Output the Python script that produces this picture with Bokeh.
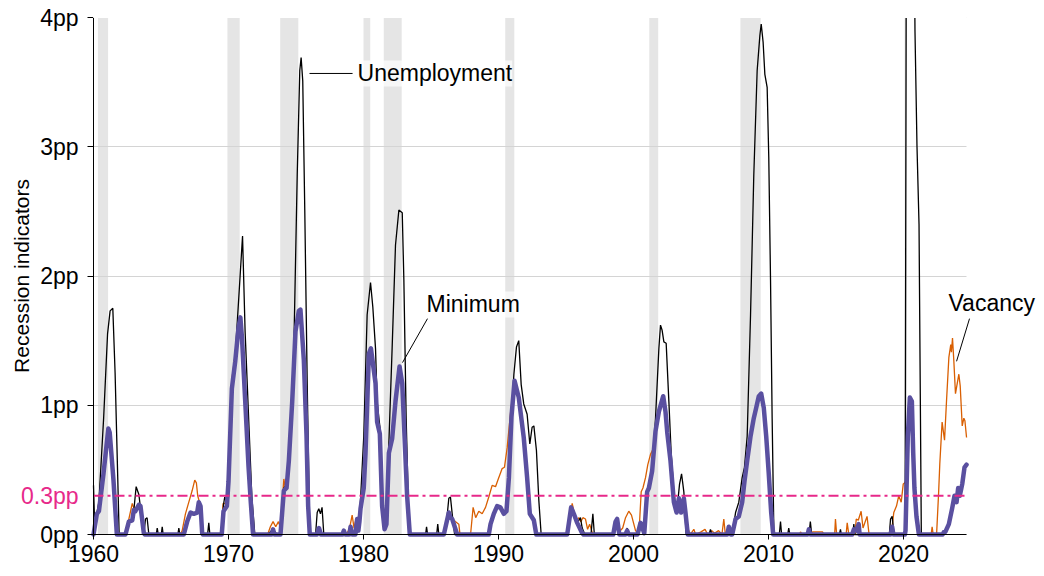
from bokeh.plotting import figure
from bokeh.models import Range1d, FixedTicker, Label, Arrow, PrintfTickFormatter
from bokeh.embed import file_html
from bokeh.resources import INLINE

# NBER recessions (start, end) in decimal years
rec_start = [1960.33, 1969.92, 1973.83, 1980.0, 1981.5, 1990.5, 2001.17, 2007.92, 2020.08]
rec_end = [1961.08, 1970.83, 1975.17, 1980.5, 1982.83, 1991.17, 2001.83, 2009.42, 2020.25]

x_ticks = [1960, 1970, 1980, 1990, 2000, 2010, 2020]
y_ticks = [0, 1, 2, 3, 4]
threshold = 0.3
data_start, data_end = 1960.0, 2024.67
y_min, y_max = 0, 4

unemployment = [
    (1960.0, 0.38), (1960.08, 0.1), (1960.25, 0.17), (1960.4, 0.25), (1960.75, 0.9), (1961.04, 1.55),
    (1961.23, 1.73), (1961.43, 1.75), (1961.6, 1.25), (1961.8, 0.42), (1961.9, 0.0),
    (1962.37, 0.0), (1962.62, 0.1), (1962.87, 0.12), (1962.99, 0.19), (1963.16, 0.37), (1963.36, 0.31),
    (1963.6, 0.1), (1963.73, 0.0), (1963.85, 0.12), (1963.97, 0.13), (1964.1, 0.0),
    (1964.65, 0.0), (1964.72, 0.05), (1964.8, 0.0), (1965.02, 0.0), (1965.09, 0.06), (1965.16, 0.0),
    (1966.25, 0.0), (1966.32, 0.05), (1966.4, 0.0), (1966.69, 0.0), (1966.94, 0.1), (1967.19, 0.17),
    (1967.43, 0.16), (1967.68, 0.17), (1967.8, 0.25), (1967.93, 0.22), (1968.05, 0.01), (1968.45, 0.0),
    (1968.54, 0.09), (1968.62, 0.0),
    (1969.5, 0.0), (1969.63, 0.23), (1969.72, 0.29), (1969.88, 0.26), (1970.12, 0.65), (1970.25, 1.15),
    (1970.5, 1.39), (1970.86, 2.0), (1971.04, 2.31), (1971.23, 1.57), (1971.48, 0.93), (1971.73, 0.29),
    (1971.95, 0.0),
    (1972.9, 0.0), (1973.3, 0.04), (1973.6, 0.0), (1973.85, 0.0), (1974.1, 0.36), (1974.3, 0.38),
    (1974.47, 0.6), (1974.64, 0.75), (1974.84, 1.44), (1975.09, 2.78), (1975.28, 3.59), (1975.38, 3.69),
    (1975.5, 3.51), (1975.65, 2.51), (1975.83, 1.17), (1976.02, 0.0),
    (1976.45, 0.0), (1976.57, 0.17), (1976.69, 0.2), (1976.81, 0.16), (1976.93, 0.21), (1977.06, 0.0),
    (1978.45, 0.0), (1978.54, 0.03), (1978.65, 0.0), (1978.95, 0.0), (1979.04, 0.06), (1979.15, 0.0),
    (1979.4, 0.0), (1979.53, 0.12), (1979.62, 0.03), (1979.78, 0.27),
    (1980.02, 0.76), (1980.27, 1.7), (1980.52, 1.95), (1980.69, 1.76), (1980.89, 1.44), (1981.01, 1.03),
    (1981.14, 0.9), (1981.25, 0.8), (1981.38, 0.25), (1981.46, 0.09), (1981.6, 0.1), (1981.7, 0.14),
    (1981.88, 0.71), (1982.12, 1.44), (1982.37, 2.24), (1982.62, 2.51), (1982.87, 2.49), (1982.99, 1.97),
    (1983.16, 0.9), (1983.36, 0.09), (1983.45, 0.0),
    (1984.6, 0.0), (1984.67, 0.06), (1984.75, 0.0), (1985.42, 0.0), (1985.5, 0.08), (1985.58, 0.0),
    (1985.95, 0.0), (1986.2, 0.15), (1986.32, 0.28), (1986.44, 0.29), (1986.57, 0.16), (1986.75, 0.0),
    (1989.28, 0.0), (1989.41, 0.08), (1989.65, 0.16), (1989.9, 0.22), (1990.14, 0.21), (1990.39, 0.16),
    (1990.59, 0.18), (1990.77, 0.45), (1990.96, 0.93), (1991.14, 1.24), (1991.33, 1.45), (1991.5, 1.5),
    (1991.68, 1.16), (1991.87, 1.01), (1992.12, 0.93), (1992.32, 0.7), (1992.49, 0.83), (1992.62, 0.84),
    (1992.81, 0.65), (1992.99, 0.26), (1993.16, 0.0),
    (1995.09, 0.0), (1995.38, 0.21), (1995.58, 0.16), (1995.83, 0.09), (1996.07, 0.13), (1996.2, 0.05),
    (1996.4, 0.0), (1996.85, 0.0), (1996.99, 0.16), (1997.1, 0.0),
    (1998.5, 0.0), (1998.67, 0.1), (1998.79, 0.13), (1998.95, 0.0), (1999.4, 0.0), (1999.53, 0.05),
    (1999.65, 0.0), (2000.4, 0.0), (2000.52, 0.09), (2000.8, 0.01), (2001.01, 0.33), (2001.14, 0.36),
    (2001.38, 0.49), (2001.63, 0.9), (2001.88, 1.44), (2002.0, 1.62), (2002.12, 1.58), (2002.25, 1.49),
    (2002.42, 1.48), (2002.62, 1.03), (2002.79, 0.63), (2003.04, 0.25), (2003.23, 0.2), (2003.41, 0.39),
    (2003.56, 0.47), (2003.73, 0.33), (2003.9, 0.0),
    (2005.6, 0.0), (2005.7, 0.04), (2005.8, 0.0), (2006.95, 0.0), (2007.06, 0.06), (2007.2, 0.0),
    (2007.31, 0.0), (2007.56, 0.17), (2007.8, 0.25), (2008.05, 0.44), (2008.22, 0.52), (2008.42, 0.76),
    (2008.67, 1.7), (2008.91, 2.78), (2009.16, 3.59), (2009.36, 3.86), (2009.46, 3.95), (2009.6, 3.81),
    (2009.73, 3.56), (2009.9, 3.46), (2010.02, 2.92), (2010.15, 1.97), (2010.27, 0.9), (2010.4, 0.0),
    (2010.8, 0.0), (2010.89, 0.1), (2010.97, 0.0), (2011.42, 0.0), (2011.5, 0.05), (2011.58, 0.0),
    (2013.0, 0.0), (2013.1, 0.1), (2013.2, 0.0), (2015.25, 0.0), (2015.33, 0.04), (2015.4, 0.0),
    (2016.25, 0.0), (2016.32, 0.08), (2016.4, 0.0), (2018.95, 0.0), (2019.04, 0.12), (2019.16, 0.14),
    (2019.3, 0.0),
    (2020.12, 0.0), (2020.3, 9.5), (2020.6, 7.5), (2020.85, 3.9), (2021.0, 3.0), (2021.15, 2.4),
    (2021.32, 0.0),
    (2022.9, 0.0), (2023.0, 0.02), (2023.1, 0.02), (2023.36, 0.08), (2023.6, 0.2), (2023.78, 0.3),
    (2023.93, 0.25), (2024.05, 0.36), (2024.17, 0.3), (2024.35, 0.39), (2024.52, 0.52), (2024.67, 0.54),
]

vacancy = [
    (1960.0, 0.0), (1960.25, 0.17), (1960.4, 0.19), (1960.74, 0.47), (1961.1, 0.82), (1961.2, 0.8),
    (1961.48, 0.43), (1961.73, 0.0),
    (1962.37, 0.0), (1962.62, 0.12), (1962.87, 0.24), (1963.0, 0.2), (1963.1, 0.18), (1963.36, 0.23),
    (1963.48, 0.22), (1963.6, 0.14), (1963.75, 0.0),
    (1966.45, 0.0), (1966.57, 0.03), (1966.81, 0.16), (1967.06, 0.25), (1967.31, 0.34), (1967.5, 0.42),
    (1967.62, 0.4), (1967.72, 0.3), (1967.85, 0.25), (1967.93, 0.22), (1968.05, 0.01), (1968.1, 0.0),
    (1969.45, 0.0), (1969.6, 0.24), (1969.88, 0.24), (1970.0, 0.45), (1970.25, 1.2), (1970.5, 1.4),
    (1970.74, 1.6), (1970.88, 1.68), (1971.0, 1.52), (1971.23, 1.05), (1971.48, 0.53), (1971.65, 0.25),
    (1971.82, 0.0),
    (1972.9, 0.0), (1973.1, 0.06), (1973.3, 0.1), (1973.5, 0.06), (1973.7, 0.1), (1973.85, 0.05),
    (1974.1, 0.43), (1974.2, 0.36), (1974.3, 0.37), (1974.47, 0.57), (1974.72, 1.03), (1974.96, 1.57),
    (1975.21, 1.73), (1975.33, 1.74), (1975.58, 1.35), (1975.78, 0.76), (1975.9, 0.22), (1976.02, 0.0),
    (1976.5, 0.0), (1976.7, 0.05), (1976.85, 0.0), (1978.45, 0.0), (1978.54, 0.03), (1978.7, 0.0),
    (1978.95, 0.04), (1979.16, 0.15), (1979.3, 0.05), (1979.45, 0.12), (1979.53, 0.13), (1979.62, 0.05),
    (1979.7, 0.14), (1979.78, 0.22),
    (1980.02, 0.4), (1980.15, 0.65), (1980.4, 1.42), (1980.55, 1.44), (1980.89, 1.17), (1981.01, 0.87),
    (1981.21, 0.8), (1981.38, 0.3), (1981.5, 0.12), (1981.56, 0.17), (1981.65, 0.12), (1981.88, 0.63),
    (1982.12, 0.74), (1982.37, 1.03), (1982.67, 1.3), (1982.87, 1.17), (1983.04, 0.76), (1983.23, 0.3),
    (1983.43, 0.0),
    (1985.9, 0.0), (1986.32, 0.17), (1986.45, 0.14), (1986.6, 0.12), (1986.8, 0.1), (1987.06, 0.08),
    (1987.15, 0.0),
    (1987.93, 0.0), (1988.12, 0.21), (1988.31, 0.13), (1988.54, 0.18), (1988.79, 0.16), (1989.04, 0.21),
    (1989.28, 0.29), (1989.53, 0.38), (1989.78, 0.37), (1989.95, 0.42), (1990.27, 0.51), (1990.44, 0.52),
    (1990.64, 0.67), (1990.9, 0.95), (1991.19, 1.19), (1991.5, 1.06), (1991.87, 0.75), (1992.12, 0.44),
    (1992.32, 0.16), (1992.62, 0.11), (1992.8, 0.0),
    (1995.0, 0.0), (1995.2, 0.1), (1995.46, 0.24), (1995.6, 0.17), (1995.8, 0.11), (1995.95, 0.13),
    (1996.1, 0.1), (1996.25, 0.13), (1996.44, 0.12), (1996.6, 0.04), (1996.75, 0.08), (1996.9, 0.03),
    (1997.0, 0.0),
    (1998.5, 0.0), (1998.67, 0.1), (1998.79, 0.12), (1998.95, 0.02), (1999.2, 0.05), (1999.41, 0.13),
    (1999.65, 0.18), (1999.85, 0.15), (2000.15, 0.03), (2000.4, 0.0), (2000.57, 0.33), (2000.7, 0.36),
    (2000.89, 0.44), (2001.06, 0.54), (2001.26, 0.62), (2001.5, 0.67), (2001.75, 0.85), (2001.88, 0.95),
    (2002.2, 1.07), (2002.37, 0.95), (2002.5, 0.79), (2002.74, 0.57), (2002.99, 0.3), (2003.19, 0.17),
    (2003.36, 0.28), (2003.53, 0.2), (2003.73, 0.3), (2003.85, 0.22), (2004.02, 0.05), (2004.2, 0.0),
    (2004.47, 0.04), (2004.6, 0.0), (2005.0, 0.02), (2005.3, 0.04), (2005.5, 0.0), (2005.8, 0.03),
    (2006.0, 0.01), (2006.3, 0.03), (2006.55, 0.0), (2006.69, 0.12), (2006.8, 0.0), (2007.06, 0.06),
    (2007.3, 0.0),
    (2007.56, 0.12), (2007.8, 0.14), (2008.05, 0.25), (2008.22, 0.41), (2008.42, 0.57), (2008.67, 0.76),
    (2008.91, 0.9), (2009.09, 0.98), (2009.28, 1.07), (2009.46, 1.09), (2009.65, 0.98), (2009.83, 0.76),
    (2010.02, 0.47), (2010.2, 0.17), (2010.35, 0.0),
    (2012.3, 0.0), (2012.37, 0.02), (2012.5, 0.0), (2013.3, 0.02), (2014.0, 0.02), (2014.1, 0.0),
    (2014.9, 0.0), (2014.96, 0.12), (2015.05, 0.0), (2015.75, 0.0), (2015.83, 0.09), (2015.95, 0.0),
    (2016.4, 0.0), (2016.5, 0.12), (2016.65, 0.11), (2016.86, 0.18), (2017.0, 0.05), (2017.3, 0.14),
    (2017.45, 0.0),
    (2019.1, 0.0), (2019.16, 0.06), (2019.28, 0.17), (2019.48, 0.22), (2019.65, 0.3), (2019.83, 0.25),
    (2019.98, 0.39), (2020.1, 0.4), (2020.2, 0.42), (2020.32, 0.76), (2020.47, 1.06), (2020.62, 1.03),
    (2020.72, 0.63), (2020.81, 0.36), (2020.96, 0.14), (2021.14, 0.0),
    (2022.05, 0.0), (2022.12, 0.06), (2022.2, 0.0), (2022.45, 0.0), (2022.6, 0.32), (2022.69, 0.55),
    (2022.86, 0.87), (2023.04, 0.73), (2023.19, 1.04), (2023.36, 1.37), (2023.5, 1.47), (2023.55, 1.41),
    (2023.63, 1.52), (2023.73, 1.34), (2023.85, 1.09), (2024.1, 1.24), (2024.2, 1.15), (2024.35, 0.84),
    (2024.47, 0.9), (2024.55, 0.88), (2024.67, 0.75),
]

minimum = [
    (1960.0, 0.0), (1960.25, 0.16), (1960.4, 0.18), (1960.74, 0.47), (1961.1, 0.82), (1961.2, 0.79),
    (1961.48, 0.42), (1961.73, 0.0),
    (1962.37, 0.0), (1962.62, 0.1), (1962.87, 0.11), (1962.99, 0.19), (1963.1, 0.18), (1963.36, 0.23),
    (1963.48, 0.22), (1963.73, 0.01), (1963.8, 0.0),
    (1966.69, 0.0), (1966.94, 0.1), (1967.19, 0.17), (1967.43, 0.16), (1967.68, 0.17), (1967.8, 0.25),
    (1967.93, 0.22), (1968.05, 0.01), (1968.1, 0.0),
    (1969.5, 0.0), (1969.63, 0.18), (1969.88, 0.22), (1970.0, 0.41), (1970.25, 1.13), (1970.5, 1.34),
    (1970.74, 1.6), (1970.88, 1.68), (1971.0, 1.52), (1971.23, 1.05), (1971.48, 0.53), (1971.65, 0.25),
    (1971.82, 0.0),
    (1973.2, 0.0), (1973.3, 0.04), (1973.4, 0.0), (1973.85, 0.0), (1974.1, 0.34), (1974.3, 0.36),
    (1974.47, 0.57), (1974.72, 1.03), (1974.96, 1.57), (1975.21, 1.73), (1975.33, 1.74), (1975.58, 1.35),
    (1975.78, 0.76), (1975.9, 0.22), (1976.02, 0.0),
    (1976.55, 0.0), (1976.7, 0.05), (1976.85, 0.0), (1978.45, 0.0), (1978.54, 0.03), (1978.65, 0.0),
    (1978.95, 0.0), (1979.04, 0.06), (1979.15, 0.0), (1979.4, 0.0), (1979.53, 0.12), (1979.62, 0.03),
    (1979.7, 0.1), (1979.78, 0.2),
    (1980.02, 0.36), (1980.15, 0.63), (1980.4, 1.4), (1980.55, 1.44), (1980.89, 1.17), (1981.01, 0.87),
    (1981.21, 0.78), (1981.38, 0.22), (1981.56, 0.04), (1981.7, 0.08), (1981.88, 0.63), (1982.12, 0.74),
    (1982.37, 1.03), (1982.67, 1.3), (1982.87, 1.17), (1983.04, 0.76), (1983.23, 0.3), (1983.43, 0.0),
    (1985.95, 0.0), (1986.32, 0.17), (1986.45, 0.13), (1986.57, 0.12), (1986.94, 0.0),
    (1989.28, 0.0), (1989.41, 0.08), (1989.65, 0.16), (1989.9, 0.22), (1990.14, 0.21), (1990.39, 0.16),
    (1990.59, 0.18), (1990.77, 0.44), (1990.96, 0.91), (1991.19, 1.19), (1991.5, 1.06), (1991.87, 0.75),
    (1992.12, 0.44), (1992.32, 0.16), (1992.62, 0.11), (1992.8, 0.0),
    (1995.09, 0.0), (1995.38, 0.21), (1995.58, 0.16), (1995.83, 0.09), (1996.2, 0.01), (1996.3, 0.0),
    (1998.5, 0.0), (1998.67, 0.1), (1998.79, 0.12), (1998.95, 0.0), (1999.4, 0.0), (1999.53, 0.03),
    (1999.65, 0.0), (2000.3, 0.0), (2000.52, 0.09), (2000.8, 0.01), (2001.01, 0.33), (2001.14, 0.36),
    (2001.38, 0.49), (2001.63, 0.8), (2001.88, 0.95), (2002.2, 1.07), (2002.37, 0.95), (2002.5, 0.79),
    (2002.74, 0.57), (2002.99, 0.25), (2003.19, 0.17), (2003.36, 0.28), (2003.53, 0.17), (2003.73, 0.28),
    (2003.85, 0.17), (2004.02, 0.0),
    (2006.95, 0.0), (2007.06, 0.06), (2007.2, 0.0), (2007.31, 0.0), (2007.56, 0.12), (2007.8, 0.14),
    (2008.05, 0.25), (2008.22, 0.41), (2008.42, 0.57), (2008.67, 0.76), (2008.91, 0.9), (2009.09, 0.98),
    (2009.28, 1.07), (2009.46, 1.09), (2009.65, 0.98), (2009.83, 0.76), (2010.02, 0.47), (2010.2, 0.17),
    (2010.35, 0.0),
    (2012.9, 0.0), (2012.99, 0.04), (2013.1, 0.0), (2016.2, 0.0), (2016.32, 0.04), (2016.5, 0.03),
    (2016.68, 0.08), (2016.75, 0.0), (2019.05, 0.0), (2019.16, 0.06), (2019.25, 0.0), (2020.1, 0.0),
    (2020.15, 0.03), (2020.32, 0.76), (2020.47, 1.06), (2020.62, 1.03), (2020.72, 0.63), (2020.81, 0.36),
    (2020.96, 0.14), (2021.14, 0.0),
    (2022.9, 0.0), (2023.0, 0.02), (2023.1, 0.02), (2023.36, 0.08), (2023.6, 0.2), (2023.78, 0.3),
    (2023.93, 0.25), (2024.05, 0.36), (2024.17, 0.3), (2024.35, 0.39), (2024.52, 0.52), (2024.67, 0.54),
]

FONT = "Liberation Sans"
C_UNEMP = "#000000"
C_VAC = "#d95f02"
C_MIN = "#5a50a0"
C_THR = "#e7298a"
C_GRID = "#d4d4d4"

# layout: the frame fills the whole figure; both axes are pinned inside it
W, H = 1040, 574
AXIS_X_PX = 93        # screen x of 1960
PX_PER_YEAR = 13.5
TOP_PX, ZERO_PX = 17, 534   # screen y of 4pp and of 0pp
PX_PER_PP = (ZERO_PX - TOP_PX) / (y_max - y_min)
x_lo = data_start - AXIS_X_PX / PX_PER_YEAR
x_hi = data_start + (W - AXIS_X_PX) / PX_PER_YEAR
y_lo = y_min - (H - ZERO_PX) / PX_PER_PP
y_hi = y_max + TOP_PX / PX_PER_PP

p = figure(width=W, height=H, output_backend="svg", toolbar_location=None,
           x_range=Range1d(x_lo, x_hi), y_range=Range1d(y_lo, y_hi),
           min_border_left=0, min_border_right=0, min_border_top=0, min_border_bottom=0)
p.outline_line_color = None
p.background_fill_color = "white"
p.border_fill_color = "white"

# recession shading
p.quad(left=rec_start, right=rec_end, bottom=y_min, top=y_max, fill_color="#e5e5e5",
       line_color=None, level="image")

# horizontal grid limited to the data span
p.xgrid.visible = False
p.ygrid.ticker = FixedTicker(ticks=y_ticks)
p.ygrid.grid_line_color = C_GRID
p.ygrid.grid_line_width = 1
try:
    p.ygrid.cross_bounds = (data_start, data_end)
except Exception:
    p.ygrid.visible = False
    p.segment(x0=data_start, x1=data_end, y0=y_ticks, y1=y_ticks,
              line_color=C_GRID, line_width=1, level="underlay")

# axes
p.xaxis.ticker = FixedTicker(ticks=x_ticks)
p.xaxis.bounds = (data_start, data_end)
p.xaxis.fixed_location = y_min
p.yaxis.ticker = FixedTicker(ticks=y_ticks)
p.yaxis.bounds = (y_min, y_max)
p.yaxis.formatter = PrintfTickFormatter(format="%dpp")
p.yaxis.fixed_location = data_start
for ax in (p.xaxis[0], p.yaxis[0]):
    ax.axis_line_color = "#000000"
    ax.axis_line_width = 1
    ax.major_tick_line_color = "#000000"
    ax.major_tick_in = 0
    ax.minor_tick_line_color = None
    ax.major_label_text_font = FONT
    ax.major_label_text_font_size = "23px"
    ax.major_label_text_color = "#000000"
p.xaxis.major_tick_out = 5
p.xaxis.major_label_standoff = 5
p.yaxis.major_tick_out = 6
p.yaxis.major_label_standoff = 9
p.yaxis.axis_label = "Recession indicators"
p.yaxis.axis_label_text_font = FONT
p.yaxis.axis_label_text_font_size = "21px"
p.yaxis.axis_label_text_font_style = "normal"
p.yaxis.axis_label_text_color = "#000000"
p.yaxis.axis_label_standoff = 4

# series
vx, vy = zip(*vacancy)
ux, uy = zip(*unemployment)
mx, my = zip(*minimum)
p.line(list(vx), list(vy), line_color=C_VAC, line_width=1.3)
p.line(list(ux), list(uy), line_color=C_UNEMP, line_width=1.3)
p.line(list(mx), list(my), line_color=C_MIN, line_width=4.5, line_join="round", line_cap="round")

# keep the plotted area ending at 4pp (values beyond the top run off the chart)
p.quad(left=data_start, right=data_end, bottom=y_max, top=y_hi + 1, fill_color="white",
       line_color="white", line_width=1, level="overlay")

# threshold
p.line([data_start, data_end], [threshold, threshold], line_color=C_THR, line_width=2,
       line_dash="10 4 3 4")
p.add_layout(Label(x=data_start, y=threshold, x_offset=-15, text="0.3pp", text_align="right",
                   text_baseline="middle", text_color=C_THR, text_font=FONT,
                   text_font_size="23px"))

# annotations
def note(x, y, txt):
    p.add_layout(Label(x=x, y=y, text=txt, text_baseline="middle", text_align="left",
                       text_font=FONT, text_font_size="23px", text_color="#000000",
                       background_fill_color="white", background_fill_alpha=0.7))

def leader(x0, y0, x1, y1):
    p.add_layout(Arrow(end=None, x_start=x0, y_start=y0, x_end=x1, y_end=y1,
                       line_color="#000000", line_width=1))

note(1979.56, 3.567, "Unemployment")
leader(1976.0, 3.567, 1979.19, 3.567)
note(1984.67, 1.78, "Minimum")
leader(1984.74, 1.67, 1982.89, 1.33)
note(2023.33, 1.79, "Vacancy")
leader(2024.89, 1.67, 2023.93, 1.34)

open("out.html", "w").write(file_html(p, INLINE))
